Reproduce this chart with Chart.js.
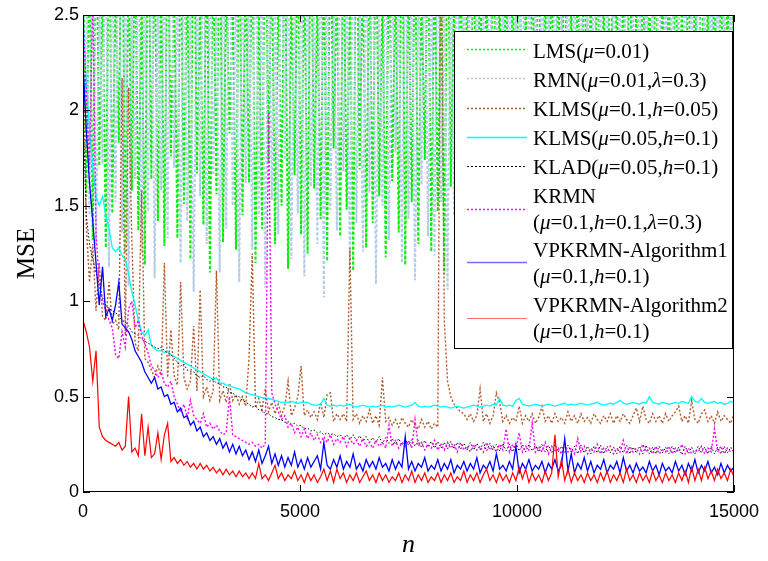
<!DOCTYPE html>
<html>
<head>
<meta charset="utf-8">
<script src="https://cdn.jsdelivr.net/npm/chart.js@4"></script>
<style>
  html, body { margin: 0; padding: 0; background: #fff; }
  #grafico { display: block; }
</style>
</head>
<body>
<canvas id="grafico" width="768" height="561"></canvas>
<script>
// ─── Eixo das amostras ────────────────────────────────────────────────────────
const PASSO = 75;
const amostras = Array.from({ length: 201 }, (_, i) => i * PASSO);
const ticksX = [0, 5000, 10000, 15000];
const ticksY = [0, 0.5, 1, 1.5, 2, 2.5];

// ─── LMS / RMN: picos (fora da escala) e vales ──────────────────────────────────
const lmsPicos = [
  3.0, 2.9, 3.2, 2.7, 3.1, 2.65, 3.3, 2.8, 3.0, 2.6,
  3.2, 2.9, 2.7, 3.1, 2.65, 3.0, 2.8, 3.3, 2.6, 3.0,
  2.9, 3.2, 2.7, 2.6, 3.1, 2.8, 3.0, 2.6, 3.3, 2.9,
  2.7, 3.1, 2.6, 3.0, 2.8, 3.2, 2.6, 2.9, 3.1, 2.7,
  3.0, 2.6, 3.2, 2.8, 2.9, 3.1, 2.6, 3.0, 2.7, 3.3,
  2.8, 3.0, 2.65, 3.1, 2.9, 2.7, 3.2, 2.6, 3.0, 2.8,
  3.1, 2.9, 2.7, 3.3, 2.6, 3.0, 2.8, 3.2, 2.6, 2.9,
  3.1, 2.7, 3.0, 2.8, 3.2, 2.6, 2.9, 3.1, 2.7, 3.0,
  2.6, 3.3, 2.8, 2.9, 3.1, 2.6, 3.0, 2.7, 3.2, 2.8,
  2.9, 3.0, 2.6, 3.1, 2.8, 3.2, 2.7, 2.9, 3.0, 2.8, 3.1
];
const lmsVales = [
  1.55, 1.32, 1.71, 1.28, 1.46, 1.83, 1.25, 1.58, 1.37, 1.19,
  1.64, 1.42, 1.29, 1.76, 1.33, 1.51, 1.22, 1.67, 1.4, 1.15,
  1.56, 1.31, 1.88, 1.27, 1.45, 1.62, 1.2, 1.38, 1.73, 1.3,
  1.5, 1.17, 1.66, 1.35, 1.25, 1.59, 1.43, 1.21, 1.8, 1.34,
  1.48, 1.16, 1.69, 1.28, 1.41, 1.55, 1.23, 1.63, 1.36, 1.19,
  1.52, 1.3, 1.74, 1.26, 1.47, 1.14, 1.6, 1.39, 1.24, 1.7,
  1.32, 1.5, 1.18, 1.65, 1.37, 1.27, 1.58, 1.44, 1.2, 1.78,
  1.33, 1.49, 1.22, 1.61, 1.35, 1.16, 1.54, 1.42, 1.28, 1.68,
  1.31, 1.46, 1.19, 1.57, 1.38, 1.25, 1.72, 1.34, 1.21, 1.5,
  1.29, 1.63, 1.4, 1.18, 1.55, 1.36, 1.24, 1.45, 1.2, 1.32
];
const rmnVales = [
  2.4, 1.45, 1.3, 1.72, 1.18, 1.52, 1.36, 1.08, 1.64, 1.25,
  1.47, 1.12, 1.58, 1.33, 1.7, 1.2, 1.42, 1.05, 1.55, 1.3,
  1.66, 1.15, 1.38, 1.5, 1.1, 1.62, 1.27, 1.44, 1.07, 1.53,
  1.35, 1.74, 1.22, 1.46, 1.13, 1.6, 1.3, 1.02, 1.48, 1.37,
  1.68, 1.16, 1.41, 1.26, 1.57, 1.09, 1.5, 1.32, 1.78, 1.2,
  1.43, 1.11, 1.61, 1.34, 1.24, 1.52, 1.06, 1.45, 1.3, 1.66,
  1.17, 1.4, 1.55, 1.23, 1.1, 1.48, 1.36, 1.7, 1.19, 1.44,
  1.28, 1.59, 1.08, 1.38, 1.5, 1.21, 1.64, 1.33, 1.14, 1.47,
  1.3, 1.56, 1.12, 1.42, 1.26, 1.62, 1.35, 1.18, 1.5, 1.4,
  1.25, 1.58, 1.15, 1.44, 1.32, 1.52, 1.28, 1.38, 1.22, 1.34, 1.3
];
const rmnPicos = [
  2.8, 3.1, 2.6, 3.0, 2.9, 3.2, 2.7, 2.6, 3.0, 2.8,
  3.1, 2.6, 2.9, 3.3, 2.7, 3.0, 2.6, 2.8, 3.1, 2.9,
  2.6, 3.0, 3.2, 2.7, 2.9, 2.65, 3.1, 2.8, 3.0, 2.6,
  3.2, 2.9, 2.7, 3.0, 2.8, 2.65, 3.1, 2.9, 2.6, 3.0,
  2.8, 3.2, 2.7, 2.9, 3.1, 2.6, 3.0, 2.8, 2.6, 3.1,
  2.9, 2.7, 3.0, 2.8, 3.2, 2.6, 2.9, 3.1, 2.7, 3.0,
  2.8, 2.6, 3.1, 2.9, 2.7, 3.0, 2.6, 3.2, 2.8, 2.9,
  3.0, 2.7, 3.1, 2.6, 2.9, 2.8, 3.0, 2.6, 3.1, 2.9,
  2.7, 3.0, 2.8, 3.2, 2.6, 2.9, 3.0, 2.7, 3.1, 2.8,
  2.9, 2.6, 3.0, 2.8, 3.1, 2.7, 2.9, 3.0, 2.8, 2.9
];

// ─── Curvas de MSE (uma leitura a cada 75 amostras) ─────────────────────────────
const klms1 = [
  2.5, 1.4, 1.1, 1.3, 0.95, 1.2, 0.92, 0.9, 1.1, 0.88,
  0.9, 0.85, 2.17, 0.82, 2.12, 1.32, 0.78, 0.74, 1.58, 0.7,
  0.68, 0.64, 0.6, 0.66, 0.61, 1.2, 0.6, 0.85, 0.61, 0.56,
  1.1, 0.6, 0.54, 0.58, 0.87, 0.53, 1.06, 0.5, 0.55, 0.48,
  0.53, 1.16, 0.48, 0.53, 0.47, 0.57, 0.48, 0.51, 0.46, 0.5,
  0.45, 0.7, 1.25, 0.44, 0.49, 0.43, 0.54, 0.42, 0.47, 0.41,
  0.46, 0.4, 0.45, 0.58, 0.4, 0.44, 0.5, 0.66, 0.4, 0.43,
  0.39, 0.42, 0.38, 0.47, 0.39, 0.51, 0.52, 0.37, 0.41, 0.38,
  0.41, 0.37, 1.28, 0.38, 0.41, 0.36, 0.4, 0.37, 0.43, 0.36,
  0.4, 0.35, 0.6, 0.37, 0.39, 0.35, 0.38, 0.34, 0.39, 0.36,
  0.34, 0.38, 0.35, 0.33, 0.38, 0.34, 0.37, 0.33, 0.36, 0.34,
  3.2, 0.9, 0.58, 0.5, 0.46, 0.44, 0.42, 0.41, 0.38, 0.41,
  0.37, 0.4, 0.54, 0.37, 0.41, 0.36, 0.4, 0.52, 0.47, 0.37,
  0.4, 0.36, 0.39, 0.37, 0.45, 0.36, 0.4, 0.37, 0.41, 0.36,
  0.39, 0.45, 0.37, 0.4, 0.36, 0.41, 0.37, 0.39, 0.36, 0.42,
  0.37, 0.4, 0.36, 0.41, 0.37, 0.39, 0.36, 0.41, 0.38, 0.36,
  0.4, 0.37, 0.41, 0.36, 0.4, 0.37, 0.41, 0.38, 0.36, 0.4,
  0.44, 0.37, 0.45, 0.38, 0.36, 0.41, 0.37, 0.4, 0.36, 0.41,
  0.37, 0.4, 0.42, 0.45, 0.37, 0.4, 0.36, 0.48, 0.38, 0.36,
  0.41, 0.43, 0.37, 0.4, 0.36, 0.42, 0.37, 0.4, 0.38, 0.36,
  0.41
];
const klms2 = [
  2.5, 2.15, 1.9, 1.7, 1.55, 1.5, 1.55, 1.45, 1.38, 1.28,
  1.26, 1.28, 1.24, 1.22, 1.14, 1.05, 0.98, 0.9, 0.84, 0.82,
  0.85, 0.77, 0.75, 0.74, 0.74, 0.73, 0.74, 0.72, 0.71, 0.7,
  0.69, 0.68, 0.67, 0.66, 0.65, 0.64, 0.63, 0.62, 0.61, 0.6,
  0.59, 0.6, 0.57, 0.57, 0.56, 0.56, 0.55, 0.545, 0.54, 0.53,
  0.52, 0.515, 0.51, 0.505, 0.5, 0.495, 0.49, 0.49, 0.485, 0.48,
  0.475, 0.47, 0.47, 0.47, 0.475, 0.47, 0.465, 0.47, 0.47, 0.47,
  0.46, 0.455, 0.455, 0.46, 0.49, 0.455, 0.45, 0.455, 0.45, 0.455,
  0.45, 0.455, 0.46, 0.45, 0.445, 0.45, 0.455, 0.45, 0.445, 0.45,
  0.445, 0.45, 0.455, 0.445, 0.45, 0.445, 0.45, 0.455, 0.45, 0.445,
  0.45, 0.455, 0.47, 0.45, 0.445, 0.45, 0.445, 0.45, 0.455, 0.45,
  0.445, 0.45, 0.445, 0.44, 0.445, 0.45, 0.445, 0.44, 0.445, 0.45,
  0.455, 0.45, 0.445, 0.45, 0.455, 0.45, 0.46, 0.455, 0.49, 0.455,
  0.45, 0.455, 0.45, 0.48, 0.49, 0.46, 0.455, 0.45, 0.455, 0.46,
  0.455, 0.45, 0.455, 0.46, 0.455, 0.45, 0.455, 0.46, 0.465, 0.455,
  0.46, 0.455, 0.46, 0.465, 0.46, 0.455, 0.46, 0.465, 0.47, 0.46,
  0.455, 0.46, 0.465, 0.46, 0.47, 0.48, 0.465, 0.46, 0.465, 0.47,
  0.465, 0.46, 0.47, 0.465, 0.5, 0.47, 0.465, 0.46, 0.47, 0.465,
  0.46, 0.465, 0.47, 0.465, 0.475, 0.47, 0.465, 0.5, 0.475, 0.47,
  0.49, 0.47, 0.465, 0.47, 0.475, 0.465, 0.47, 0.46, 0.465, 0.475,
  0.465
];
const klad = [
  2.0, 1.45, 1.3, 1.22, 1.15, 1.08, 1.02, 0.98, 0.96, 0.95,
  0.94, 0.92, 0.9, 0.89, 0.87, 0.84, 0.83, 0.82, 0.8, 0.79,
  0.78, 0.77, 0.76, 0.75, 0.76, 0.74, 0.73, 0.72, 0.7, 0.68,
  0.66, 0.67, 0.64, 0.63, 0.63, 0.61, 0.6, 0.61, 0.59, 0.58,
  0.59, 0.57, 0.57, 0.55, 0.55, 0.52, 0.52, 0.5, 0.5, 0.48,
  0.47, 0.46, 0.445, 0.45, 0.43, 0.43, 0.41, 0.41, 0.395, 0.39,
  0.38, 0.38, 0.365, 0.37, 0.355, 0.36, 0.345, 0.35, 0.33, 0.335,
  0.32, 0.325, 0.31, 0.315, 0.3, 0.31, 0.3, 0.305, 0.29, 0.3,
  0.28, 0.3, 0.275, 0.3, 0.27, 0.295, 0.265, 0.29, 0.26, 0.285,
  0.26, 0.29, 0.255, 0.285, 0.255, 0.28, 0.25, 0.28, 0.245, 0.275,
  0.245, 0.275, 0.24, 0.27, 0.235, 0.27, 0.235, 0.265, 0.23, 0.265,
  0.23, 0.26, 0.225, 0.265, 0.225, 0.26, 0.225, 0.255, 0.22, 0.26,
  0.22, 0.255, 0.22, 0.26, 0.215, 0.255, 0.22, 0.25, 0.215, 0.255,
  0.215, 0.25, 0.21, 0.255, 0.215, 0.25, 0.21, 0.25, 0.215, 0.245,
  0.21, 0.25, 0.21, 0.245, 0.205, 0.25, 0.21, 0.24, 0.205, 0.245,
  0.21, 0.24, 0.2, 0.245, 0.205, 0.24, 0.2, 0.24, 0.205, 0.245,
  0.2, 0.24, 0.205, 0.235, 0.2, 0.24, 0.205, 0.245, 0.2, 0.235,
  0.205, 0.24, 0.2, 0.245, 0.2, 0.235, 0.2, 0.24, 0.205, 0.235,
  0.2, 0.24, 0.205, 0.235, 0.195, 0.24, 0.2, 0.235, 0.2, 0.24,
  0.205, 0.235, 0.2, 0.24, 0.2, 0.235, 0.2, 0.24, 0.205, 0.235,
  0.21
];
const krmn = [
  2.5, 2.1, 1.7, 2.6, 1.35, 1.1, 1.0, 0.95, 0.9, 0.86,
  0.72, 0.7, 0.84, 0.76, 0.96, 1.0, 0.86, 0.9, 0.82, 0.78,
  0.73, 0.66, 0.64, 0.6, 0.63, 0.57, 0.55, 0.58, 0.5, 0.46,
  0.42, 0.46, 0.39, 0.48, 0.4, 0.38, 0.36, 0.41, 0.34, 0.36,
  0.33, 0.35, 0.32, 0.3, 0.31, 0.5, 0.3, 0.29, 0.28, 0.27,
  0.26, 0.25, 0.26, 0.24, 0.25, 0.23, 0.25, 1.99, 0.52, 0.46,
  0.42, 0.38, 0.4, 0.34, 0.36, 0.31, 0.34, 0.29, 0.33, 0.28,
  0.31, 0.27, 0.3, 0.26, 0.29, 0.26, 0.3, 0.25, 0.28, 0.26,
  0.29, 0.24, 0.28, 0.25, 0.27, 0.24, 0.28, 0.24, 0.26, 0.23,
  0.27, 0.24, 0.26, 0.23, 0.35, 0.24, 0.27, 0.23, 0.26, 0.24,
  0.27, 0.23, 0.38, 0.24, 0.26, 0.22, 0.25, 0.23, 0.27, 0.22,
  0.25, 0.22, 0.26, 0.23, 0.25, 0.21, 0.26, 0.22, 0.24, 0.21,
  0.25, 0.22, 0.24, 0.21, 0.26, 0.22, 0.24, 0.21, 0.25, 0.22,
  0.33, 0.21, 0.25, 0.22, 0.31, 0.21, 0.24, 0.22, 0.36, 0.21,
  0.24, 0.21, 0.26, 0.2, 0.24, 0.21, 0.23, 0.2, 0.25, 0.21,
  0.23, 0.2, 0.28, 0.21, 0.24, 0.2, 0.23, 0.21, 0.25, 0.2,
  0.23, 0.21, 0.24, 0.2, 0.23, 0.21, 0.27, 0.2, 0.24, 0.21,
  0.23, 0.2, 0.25, 0.21, 0.23, 0.2, 0.24, 0.2, 0.22, 0.21,
  0.24, 0.2, 0.23, 0.21, 0.25, 0.2, 0.23, 0.2, 0.22, 0.21,
  0.24, 0.2, 0.23, 0.21, 0.33, 0.21, 0.24, 0.2, 0.23, 0.21,
  0.22
];
const vpkrmn1 = [
  2.25, 1.9, 1.62, 1.42, 1.2, 0.98, 1.18, 0.92, 0.96, 0.9,
  0.98, 1.1, 0.88, 0.86, 0.84, 0.8, 0.74, 0.71, 0.68, 0.63,
  0.6, 0.57, 0.6, 0.54, 0.55, 0.5, 0.51, 0.46, 0.47, 0.42,
  0.44, 0.39, 0.4, 0.35, 0.37, 0.32, 0.34, 0.29, 0.31, 0.27,
  0.29, 0.25, 0.28, 0.23, 0.26, 0.21, 0.25, 0.2, 0.24, 0.19,
  0.22, 0.17, 0.21, 0.16, 0.22, 0.15, 0.19, 0.24, 0.15, 0.2,
  0.14, 0.19, 0.13, 0.18, 0.14, 0.21, 0.13, 0.17, 0.12, 0.18,
  0.13, 0.16, 0.19, 0.12, 0.26, 0.14, 0.12, 0.17, 0.13, 0.19,
  0.12, 0.16, 0.13, 0.2, 0.12, 0.15, 0.11, 0.17, 0.13, 0.16,
  0.12, 0.18, 0.13, 0.15, 0.11, 0.17, 0.12, 0.16, 0.13, 0.29,
  0.12, 0.16, 0.11, 0.15, 0.13, 0.18, 0.11, 0.14, 0.12, 0.17,
  0.11, 0.15, 0.12, 0.17, 0.1, 0.14, 0.12, 0.16, 0.11, 0.15,
  0.12, 0.18, 0.1, 0.14, 0.12, 0.16, 0.11, 0.2, 0.12, 0.14,
  0.11, 0.16, 0.12, 0.24, 0.1, 0.15, 0.12, 0.17, 0.11, 0.14,
  0.12, 0.16, 0.1, 0.15, 0.12, 0.17, 0.11, 0.14, 0.28, 0.11,
  0.2, 0.1, 0.15, 0.12, 0.18, 0.11, 0.16, 0.1, 0.14, 0.12,
  0.17, 0.1, 0.14, 0.12, 0.16, 0.1, 0.18, 0.11, 0.14, 0.1,
  0.15, 0.11, 0.13, 0.1, 0.16, 0.11, 0.14, 0.09, 0.15, 0.11,
  0.13, 0.1, 0.16, 0.11, 0.14, 0.09, 0.15, 0.11, 0.17, 0.1,
  0.14, 0.11, 0.16, 0.1, 0.13, 0.09, 0.15, 0.1, 0.14, 0.11,
  0.13
];
const vpkrmn2 = [
  0.9, 0.84, 0.76, 0.58, 0.74, 0.34, 0.29, 0.27, 0.26, 0.25,
  0.24, 0.26, 0.22, 0.24, 0.5, 0.21, 0.23, 0.19, 0.41, 0.19,
  0.34, 0.18, 0.2, 0.31, 0.17, 0.3, 0.36, 0.16, 0.18, 0.15,
  0.17, 0.14, 0.16, 0.13, 0.15, 0.12, 0.15, 0.12, 0.14, 0.11,
  0.13, 0.1, 0.12, 0.09, 0.12, 0.09, 0.11, 0.08, 0.11, 0.08,
  0.1, 0.07, 0.1, 0.07, 0.15, 0.07, 0.09, 0.06, 0.1, 0.14,
  0.07, 0.1, 0.06, 0.09, 0.07, 0.11, 0.06, 0.09, 0.05, 0.1,
  0.06, 0.09, 0.05, 0.08, 0.12, 0.06, 0.11, 0.05, 0.12, 0.07,
  0.1, 0.05, 0.09, 0.06, 0.1, 0.05, 0.08, 0.11, 0.06, 0.09,
  0.05, 0.1, 0.06, 0.09, 0.05, 0.08, 0.06, 0.1, 0.05, 0.09,
  0.06, 0.11, 0.05, 0.09, 0.06, 0.1, 0.05, 0.08, 0.06, 0.1,
  0.05, 0.09, 0.06, 0.1, 0.05, 0.08, 0.06, 0.11, 0.05, 0.09,
  0.06, 0.1, 0.05, 0.09, 0.12, 0.06, 0.09, 0.05, 0.1, 0.06,
  0.09, 0.05, 0.1, 0.06, 0.13, 0.07, 0.12, 0.05, 0.1, 0.06,
  0.09, 0.05, 0.11, 0.06, 0.1, 0.3, 0.08, 0.17, 0.06, 0.12,
  0.05, 0.1, 0.06, 0.09, 0.05, 0.1, 0.06, 0.09, 0.05, 0.1,
  0.06, 0.11, 0.05, 0.09, 0.06, 0.1, 0.05, 0.12, 0.06, 0.09,
  0.05, 0.1, 0.06, 0.09, 0.05, 0.11, 0.06, 0.09, 0.05, 0.1,
  0.06, 0.09, 0.05, 0.1, 0.06, 0.11, 0.05, 0.13, 0.06, 0.12,
  0.06, 0.13, 0.07, 0.11, 0.06, 0.12, 0.07, 0.1, 0.06, 0.12,
  0.08
];

// ─── Helpers ──────────────────────────────────────────────────────────────────
function pontos(valores) {
  return valores.map((y, i) => ({ x: amostras[i], y }));
}

// picos e vales alternam a cada PASSO amostras
function intercalar(pares, impares) {
  const serie = [];
  const total = pares.length + impares.length;
  for (let i = 0; i < total; i++) {
    serie.push(i % 2 === 0 ? pares[i / 2] : impares[(i - 1) / 2]);
  }
  return serie;
}

// ─── Séries (ordem da legenda) ────────────────────────────────────────────────
const SERIF = '"Liberation Serif", "Times New Roman", serif';
const SANS  = '"Liberation Sans", Arial, sans-serif';

const series = [
  { nome: 'LMS',     dados: intercalar(lmsPicos, lmsVales), cor: '#00f000', largura: 2, traco: [3, 2],
    legenda: [[['LMS(', 0], ['μ', 1], ['=0.01)', 0]]] },
  { nome: 'RMN',     dados: intercalar(rmnVales, rmnPicos), cor: '#b3cbea', largura: 2, traco: [3, 2],
    legenda: [[['RMN(', 0], ['μ', 1], ['=0.01,', 0], ['λ', 1], ['=0.3)', 0]]] },
  { nome: 'KLMS1',   dados: klms1,   cor: '#b0582a', largura: 1.4, traco: [2, 2],
    legenda: [[['KLMS(', 0], ['μ', 1], ['=0.1,', 0], ['h', 1], ['=0.05)', 0]]] },
  { nome: 'KLMS2',   dados: klms2,   cor: '#00ffff', largura: 1.3, traco: [],
    legenda: [[['KLMS(', 0], ['μ', 1], ['=0.05,', 0], ['h', 1], ['=0.1)', 0]]] },
  { nome: 'KLAD',    dados: klad,    cor: '#000000', largura: 1,   traco: [1.5, 2],
    legenda: [[['KLAD(', 0], ['μ', 1], ['=0.05,', 0], ['h', 1], ['=0.1)', 0]]] },
  { nome: 'KRMN',    dados: krmn,    cor: '#ff00ff', largura: 1.4, traco: [2, 2],
    legenda: [[['KRMN', 0]], [['(', 0], ['μ', 1], ['=0.1,', 0], ['h', 1], ['=0.1,', 0], ['λ', 1], ['=0.3)', 0]]] },
  { nome: 'VPKRMN1', dados: vpkrmn1, cor: '#0000ff', largura: 1.3, traco: [], corLegenda: '#7070ff',
    legenda: [[['VPKRMN-Algorithm1', 0]], [['(', 0], ['μ', 1], ['=0.1,', 0], ['h', 1], ['=0.1)', 0]]] },
  { nome: 'VPKRMN2', dados: vpkrmn2, cor: '#ff0000', largura: 1.2, traco: [], corLegenda: '#ff7070',
    legenda: [[['VPKRMN-Algorithm2', 0]], [['(', 0], ['μ', 1], ['=0.1,', 0], ['h', 1], ['=0.1)', 0]]] },
];

// posição das linhas de texto e dos traços da legenda
const LEG_CAIXA  = { x: 454, y: 31, w: 278, h: 317 };
const LEG_TEXTO  = [[52], [81], [110], [139], [168], [197, 223], [251, 277], [306, 332]];
const LEG_TRACO  = [49, 78, 108, 137, 166, 209, 262, 318];

// ─── Plugin: moldura, ticks internos e legenda ─────────────────────────────────
const molduraELegenda = {
  id: 'molduraELegenda',
  afterDraw(chart) {
    const ctx = chart.ctx;
    const { left, right, top, bottom } = chart.chartArea;
    const sx = chart.scales.x, sy = chart.scales.y;
    ctx.save();
    ctx.strokeStyle = '#000';
    ctx.lineWidth = 1;
    ctx.setLineDash([]);
    ctx.strokeRect(left + 0.5, top + 0.5, right - left - 1, bottom - top - 1);

    ctx.beginPath();
    ticksX.forEach(v => {
      const x = Math.round(sx.getPixelForValue(v)) + 0.5;
      ctx.moveTo(x, bottom); ctx.lineTo(x, bottom - 7);
      ctx.moveTo(x, top);    ctx.lineTo(x, top + 7);
    });
    ticksY.forEach(v => {
      const y = Math.round(sy.getPixelForValue(v)) + 0.5;
      ctx.moveTo(left, y);  ctx.lineTo(left + 7, y);
      ctx.moveTo(right, y); ctx.lineTo(right - 7, y);
    });
    ctx.stroke();

    // legenda
    const c = LEG_CAIXA;
    ctx.fillStyle = '#fff';
    ctx.fillRect(c.x, c.y, c.w, c.h);
    ctx.strokeRect(c.x + 0.5, c.y + 0.5, c.w, c.h);

    ctx.textBaseline = 'middle';
    ctx.textAlign = 'left';
    series.forEach((s, k) => {
      const yl = LEG_TRACO[k] + 0.5;
      ctx.strokeStyle = s.corLegenda || s.cor;
      ctx.lineWidth = Math.min(s.largura, 1.5);
      ctx.setLineDash(s.traco.length ? [2, 2] : []);
      ctx.beginPath();
      ctx.moveTo(467, yl); ctx.lineTo(527, yl);
      ctx.stroke();

      ctx.fillStyle = '#000';
      s.legenda.forEach((linha, j) => {
        let x = 533;
        const y = LEG_TEXTO[k][j];
        linha.forEach(([txt, italico]) => {
          ctx.font = (italico ? 'italic ' : '') + '21px ' + SERIF;
          ctx.fillText(txt, x, y);
          x += ctx.measureText(txt).width;
        });
      });
    });
    ctx.restore();
  }
};

// ─── Gráfico ──────────────────────────────────────────────────────────────────
const datasets = series.map((s, k) => ({
  label: s.nome,
  data: pontos(s.dados),
  borderColor: s.cor,
  borderWidth: s.largura,
  borderDash: s.traco,
  pointRadius: 0,
  tension: 0,
  fill: false,
  order: series.length - k,
}));

new Chart(document.getElementById('grafico'), {
  type: 'line',
  data: { datasets },
  options: {
    responsive: false,
    animation: false,
    events: [],
    layout: { padding: { left: 0, right: 27, top: 15, bottom: 0 } },
    plugins: { legend: { display: false }, tooltip: { enabled: false } },
    scales: {
      x: {
        type: 'linear', min: 0, max: 15000,
        border: { display: false },
        grid: { display: false, drawTicks: false },
        afterBuildTicks: s => { s.ticks = ticksX.map(v => ({ value: v })); },
        ticks: { color: '#000', font: { family: SANS, size: 18 }, padding: 9, maxRotation: 0,
                 callback: v => String(v) },
        title: { display: true, text: 'n', color: '#000',
                 font: { family: SERIF, size: 26, style: 'italic' }, padding: { top: 0, bottom: 0 } },
        afterFit: s => { s.height = 69; },
      },
      y: {
        type: 'linear', min: 0, max: 2.5,
        border: { display: false },
        grid: { display: false, drawTicks: false },
        afterBuildTicks: s => { s.ticks = ticksY.map(v => ({ value: v })); },
        ticks: { color: '#000', font: { family: SANS, size: 18 }, padding: 4,
                 callback: v => String(v) },
        title: { display: true, text: 'MSE', color: '#000',
                 font: { family: SERIF, size: 25 }, padding: { top: 12, bottom: 0 } },
        afterFit: s => { s.width = 83; },
      },
    },
  },
  plugins: [molduraELegenda],
});
</script>
</body>
</html>
